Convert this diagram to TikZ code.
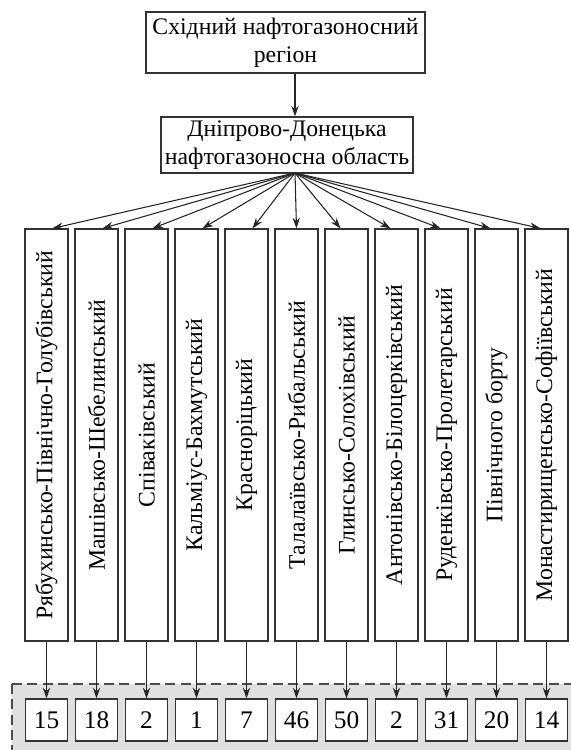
\documentclass[tikz,border=0pt]{standalone}
\usepackage{fontspec}
\setmainfont{Liberation Serif}
\usetikzlibrary{arrows.meta}
\begin{document}
\begin{tikzpicture}[x=0.75pt,y=-0.75pt,
  box/.style={draw=black!80, line width=0.9pt, fill=white, inner sep=0pt, align=center, font=\fontsize{17.8}{21}\selectfont},
  tall/.style={box, minimum width=32.25pt, minimum height=309pt},
  num/.style={box, minimum size=31.5pt, font=\fontsize{19}{21}\selectfont},
  arr/.style={draw=black!85, line width=0.8pt, -{Stealth[length=8pt,width=5.5pt]}},
  zone/.style={draw=black!70, line width=1.4pt, dash pattern=on 7.5pt off 4pt}]
\useasboundingbox (0,0) rectangle (571,750);
\clip (0,0) rectangle (571,750);
\fill[black!12] (12,684) rectangle (600,780);
\draw[zone] (12,684) -- (600,684);
\draw[zone] (12,684) -- (12,780);
\node[box, minimum width=209.25pt, minimum height=45.75pt] (top) at (285.5,42.5) {Східний нафтогазоносний\\регіон};
\node[box, minimum width=189pt, minimum height=42pt] (reg) at (287,145) {Дніпрово-Донецька\\нафтогазоносна область};
\coordinate (fo) at (295,173);
\draw[arr] (top.south -| fo) -- (reg.north -| fo);
\foreach \t [count=\i from 0] in {Рябухинсько-Північно-Голубівський, Машівсько-Шебелинський, Співаківський, Кальміус-Бахмутський, Красноріцький, Талалаївсько-Рибальський, Глинсько-Солохівський, Антонівсько-Білоцерківський, Руденківсько-Пролетарський, Північного борту, Монастирищенсько-Софіївський}{
  \node[tall] (b\i) at ({46.5+50*\i},435) {\rotatebox{90}{\t}};
}
\foreach \n [count=\i from 0] in {15,18,2,1,7,46,50,2,31,20,14}{
  \node[num] (n\i) at ({46.5+50*\i},720) {\n};
  \pgfmathsetmacro\s{(\i<5)*4.5-(\i>5)*4.5}
  \draw[arr] (fo) -- ([xshift=\s pt]b\i.north);
  \draw[arr] (b\i.south) -- (n\i.north);
}
\end{tikzpicture}
\end{document}
